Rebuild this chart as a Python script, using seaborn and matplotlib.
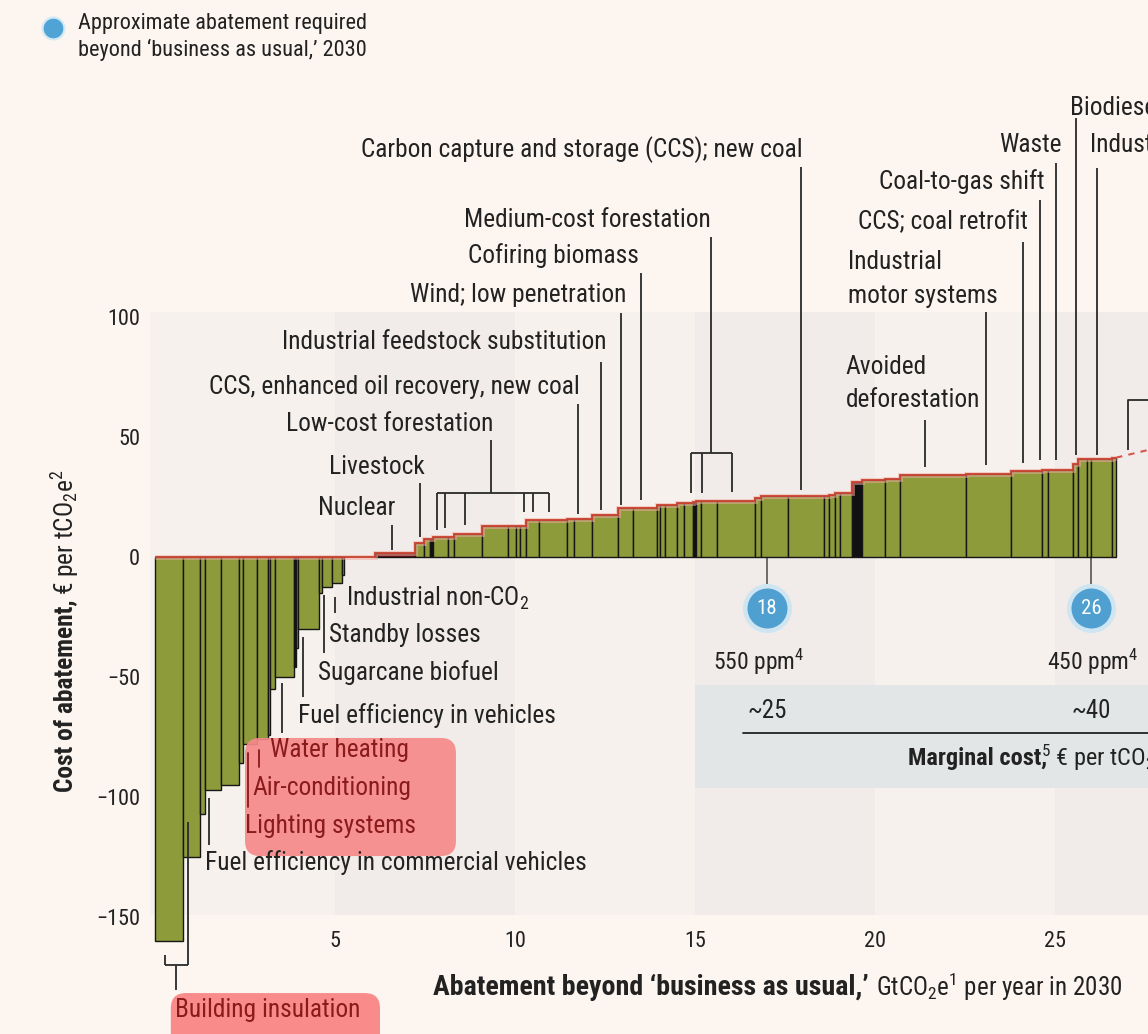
import numpy as np
import pandas as pd
import matplotlib
matplotlib.use("Agg")
import matplotlib.pyplot as plt
import seaborn as sns
from matplotlib import font_manager
from matplotlib.patches import FancyBboxPatch, Rectangle

# ---------------- data ----------------
widths = [0.79, 0.46, 0.14, 0.44, 0.49, 0.12, 0.39, 0.31, 0.06, 0.14, 0.52, 0.06, 0.06, 0.57,
          0.09, 0.28, 0.28, 0.06,
          0.86,
          1.10, 0.25, 0.18, 0.08, 0.42, 0.16, 0.76, 0.74, 0.23, 0.09, 0.17, 0.37, 0.77, 0.21,
          0.48, 0.72, 0.44, 0.65, 0.08, 0.16, 0.33, 0.18, 0.26, 0.08, 0.13, 0.44, 1.07, 0.16,
          0.75, 1.01, 0.12, 0.19, 0.14, 0.32, 0.28, 0.65, 0.40, 1.84, 1.25, 0.87, 0.15, 0.69,
          0.15, 0.24, 0.13, 0.58, 0.11]
costs = [-160, -125, -107, -97, -95, -86, -78, -76, -74, -55, -50, -46, -38, -30,
         -15, -12.5, -11, -7.5,
         0,
         1.5, 5.8, 7.5, 7.5, 8.3, 8.3, 9.4, 13, 13, 13, 13, 15.3, 15.3, 16,
         16, 17.7, 20.4, 20.4, 21.8, 21.8, 21.8, 22.7, 22.7, 23, 23.2, 23.2, 23.2, 24.7,
         25.4, 25.4, 25.6, 25.8, 26.5, 26.8, 31.3, 32, 32.6, 34, 34.7, 35.8, 36.4, 36.4,
         38.6, 40.7, 40.7, 40.7, 41.4]
black_bars = [11, 22, 42, 53]
nuclear_bar = 19

x_ticks = [5, 10, 15, 20, 25]
y_ticks = [100, 50, 0, -50, -100, -150]
target_x = [17.0, 26.0]
target_labels = ["18", "26"]
ppm_labels = ["550 ppm$^4$", "450 ppm$^4$"]
ppm_x = [16.78, 26.05]
marginal_costs = ["~25", "~40"]

# ---------------- fonts ----------------
avail = {f.name for f in font_manager.fontManager.ttflist}
FONT = "DejaVu Sans"
for cand in ["Roboto Condensed", "Liberation Sans Narrow", "Open Sans Condensed", "Roboto"]:
    if cand in avail:
        FONT = cand
        break

sns.set_theme(style="white")
plt.rcParams["font.family"] = [FONT, "DejaVu Sans"]
plt.rcParams["mathtext.fontset"] = "custom"
plt.rcParams["mathtext.rm"] = FONT
plt.rcParams["mathtext.bf"] = FONT + ":bold"
plt.rcParams["mathtext.it"] = FONT + ":italic"
plt.rcParams["axes.unicode_minus"] = True

BG = "#fcf5f0"
PANEL = "#f6f1ed"
BAND = "#f1ece9"
GREEN = "#8d9b3a"
TXT = "#222222"
DRED = "#8b1a1a"

fig = plt.figure(figsize=(11.48, 10.34), dpi=100, facecolor=BG)
ax = fig.add_axes([0, 0, 1, 1])
ax.set_facecolor(BG)

edges = np.concatenate([[0.0], np.cumsum(widths)])
centers = (edges[:-1] + edges[1:]) / 2
df = pd.DataFrame({"abatement": centers, "cost": costs})

n_before = len(ax.patches)
try:
    sns.histplot(data=df, x="abatement", weights="cost", bins=list(edges), ax=ax,
                 color=GREEN, alpha=1, edgecolor="#161616", linewidth=1.0, zorder=2)
    bars = list(ax.patches)[n_before:]
    if len(bars) != len(costs):
        raise RuntimeError("bar count")
except Exception:
    for p in list(ax.patches)[n_before:]:
        p.remove()
    cont = ax.bar(edges[:-1], costs, width=widths, align="edge", color=GREEN,
                  edgecolor="#161616", linewidth=1.0, zorder=2)
    bars = list(cont.patches)

for i, p in enumerate(bars):
    p.set_facecolor(GREEN)
    p.set_alpha(1)
    if i in black_bars:
        p.set_facecolor("#111111")
    if i == nuclear_bar:
        p.set_facecolor("#6e1414")
    if costs[i] == 0:
        p.set_linewidth(0)

# background panel + alternating bands
ax.add_patch(Rectangle((-0.15, -149), 28.5, 251, color=PANEL, zorder=0, lw=0))
for b0 in [5, 15, 25]:
    ax.add_patch(Rectangle((b0, -149), 5, 251, color=BAND, zorder=0.1, lw=0))

# red cost line
tops = np.maximum(np.array(costs, dtype=float), 0)
ax.stairs(tops, edges, baseline=None, color="#f2aaa0", lw=3.5, alpha=0.55, zorder=2.8)
ax.stairs(tops, edges, baseline=None, color="#c8412e", lw=1.3, zorder=3)
ax.plot([edges[-1], 27.7], [costs[-1], 45], ls=(0, (3, 3)), color="#d9534f", lw=1.5, zorder=3)

# marginal cost band
ax.add_patch(Rectangle((15.0, -96.25), 13, 42.9, color="#e3e6e6", zorder=0.5, lw=0))
ax.plot([16.33, 27.7], [-73.3, -73.3], color="#222", lw=1.3, zorder=1)
for xm, lab in zip(target_x, marginal_costs):
    ax.text(xm, -64.2, lab, ha="center", va="center", fontsize=18, color=TXT)
ax.text(20.92, -83.75, "Marginal cost,", ha="left", va="center", fontsize=17.5,
        fontweight="bold", color=TXT)
ax.text(24.62, -83.75, "$^5$ € per tCO$_2$e", ha="left", va="center", fontsize=17.5, color=TXT)

# targets
for xm, lab in zip(target_x, target_labels):
    ax.plot([xm, xm], [0, -13], color="#555", lw=1.2, zorder=1)
    ax.scatter([xm], [-21.25], s=1250, color="#cfe6f2", zorder=4, lw=0)
    ax.scatter([xm], [-21.25], s=830, color="#4f9fd0", zorder=5, lw=0)
    ax.text(xm, -21.25, lab, ha="center", va="center", fontsize=15, color="white", zorder=6)
for xp, ppm in zip(ppm_x, ppm_labels):
    ax.text(xp, -43.75, ppm, ha="center", va="center", fontsize=17, color=TXT)

# leader lines
lines = [
    ([17.94, 17.94], [162.5, 27.9]),
    ([15.44, 15.44], [133.3, 43.3]),
    ([14.89, 16.03], [43.3, 43.3]),
    ([14.89, 14.89], [43.3, 26.7]),
    ([15.19, 15.19], [43.3, 26.7]),
    ([16.03, 16.03], [43.3, 27.1]),
    ([13.5, 13.5], [118.3, 23.75]),
    ([12.94, 12.94], [101.7, 21.7]),
    ([12.39, 12.39], [81.25, 19.6]),
    ([11.75, 11.75], [63.75, 17.9]),
    ([9.33, 9.33], [48.75, 26.7]),
    ([7.83, 10.94], [26.7, 26.7]),
    ([7.83, 7.83], [26.7, 11.25]),
    ([8.06, 8.06], [26.7, 12.1]),
    ([8.61, 8.61], [26.7, 13.3]),
    ([10.25, 10.25], [26.7, 18.75]),
    ([10.5, 10.5], [26.7, 18.75]),
    ([10.94, 10.94], [26.7, 18.75]),
    ([7.35, 7.35], [30.8, 8.3]),
    ([6.58, 6.58], [13.3, 2.9]),
    ([21.39, 21.39], [57.1, 37.5]),
    ([23.08, 23.08], [102.1, 38.3]),
    ([24.11, 24.11], [131.25, 39.2]),
    ([24.58, 24.58], [148.75, 40.4]),
    ([25.03, 25.03], [164.2, 40.4]),
    ([25.58, 25.58], [182.9, 42.5]),
    ([26.17, 26.17], [162.1, 42.5]),
    ([27.03, 27.03, 27.8], [44.6, 65.4, 65.4]),
    ([5.0, 5.0], [-16.7, -23.3]),
    ([4.69, 4.69], [-15.8, -40]),
    ([4.11, 4.11], [-33.3, -58.3]),
    ([3.53, 3.53], [-52.5, -73.3]),
    ([1.5, 1.5], [-100.4, -120]),
    ([0.92, 0.92], [-110.4, -170]),
    ([0.28, 0.92], [-170, -170]),
    ([0.28, 0.28], [-165.8, -170]),
    ([0.58, 0.58], [-170, -180.4]),
]
for xs, ys in lines:
    ax.plot(xs, ys, color="#2a2a2a", lw=1.3, zorder=3.5, solid_capstyle="butt")

# highlight boxes
ax.add_patch(FancyBboxPatch((2.5, -124.6), 5.86, 49.2,
                            boxstyle="round,pad=0,rounding_size=0.42", mutation_aspect=15,
                            fc="#f7898a", ec="none", alpha=0.92, zorder=4))
ax.add_patch(FancyBboxPatch((0.44, -205), 5.81, 23.3,
                            boxstyle="round,pad=0,rounding_size=0.42", mutation_aspect=15,
                            fc="#f98b8a", ec="none", zorder=4))
for xs, ys in [([2.89, 2.89], [-80.4, -87.5]), ([2.57, 2.57], [-81.7, -104.2])]:
    ax.plot(xs, ys, color=DRED, lw=1.3, zorder=4.5)

LS = 18.3
labels = [
    ("Carbon capture and storage (CCS); new coal", 18.0, 169.6, "right", TXT),
    ("Medium-cost forestation", 15.44, 140.4, "right", TXT),
    ("Cofiring biomass", 13.44, 125.8, "right", TXT),
    ("Wind; low penetration", 13.08, 109.2, "right", TXT),
    ("Industrial feedstock substitution", 12.53, 89.6, "right", TXT),
    ("CCS, enhanced oil recovery, new coal", 11.81, 70.8, "right", TXT),
    ("Low-cost forestation", 9.39, 55.4, "right", TXT),
    ("Livestock", 7.5, 37.5, "right", TXT),
    ("Nuclear", 6.69, 20.4, "right", TXT),
    ("Avoided", 19.19, 79.2, "left", TXT),
    ("deforestation", 19.19, 65.4, "left", TXT),
    ("Industrial", 19.25, 122.9, "left", TXT),
    ("motor systems", 19.25, 108.75, "left", TXT),
    ("CCS; coal retrofit", 24.25, 139.6, "right", TXT),
    ("Coal-to-gas shift", 24.72, 156.25, "right", TXT),
    ("Waste", 25.19, 171.7, "right", TXT),
    ("Biodiesel", 25.42, 187.1, "left", TXT),
    ("Industrial CCS", 25.97, 171.7, "left", TXT),
    ("Industrial non-CO$_2$", 5.31, -17.1, "left", TXT),
    ("Standby losses", 4.83, -32.5, "left", TXT),
    ("Sugarcane biofuel", 4.53, -48.3, "left", TXT),
    ("Fuel efficiency in vehicles", 3.97, -66.25, "left", TXT),
    ("Water heating", 3.19, -80.4, "left", DRED),
    ("Air-conditioning", 2.72, -96.25, "left", DRED),
    ("Lighting systems", 2.5, -112.1, "left", DRED),
    ("Fuel efficiency in commercial vehicles", 1.39, -127.5, "left", TXT),
    ("Building insulation", 0.56, -188.75, "left", DRED),
]
for t, x, y, ha, c in labels:
    ax.text(x, y, t, ha=ha, va="center", fontsize=LS, color=c, zorder=5)

# legend
ax.scatter([-2.83], [220.4], s=300, color="#d3e9f4", zorder=4, lw=0, clip_on=False)
ax.scatter([-2.83], [220.4], s=200, color="#4fa3d5", zorder=5, lw=0, clip_on=False)
ax.text(-2.14, 222.1, "Approximate abatement required", ha="left", va="center", fontsize=16, color=TXT)
ax.text(-2.14, 211.25, "beyond \u2018business as usual,\u2019 2030", ha="left", va="center",
        fontsize=16, color=TXT)

# axis titles
ax.text(19.83, -179.2, "Abatement beyond \u2018business as usual,\u2019", ha="right", va="center",
        fontsize=20.2, fontweight="bold", color=TXT)
ax.text(20.03, -179.2, "GtCO$_2$e$^1$ per year in 2030", ha="left", va="center", fontsize=18, color=TXT)
ax.text(-2.5, -97.9, "Cost of abatement,", rotation=90, ha="center", va="bottom",
        fontsize=18.3, fontweight="bold", color=TXT)
ax.text(-2.5, -15.8, "€ per tCO$_2$e$^2$", rotation=90, ha="center", va="bottom",
        fontsize=18.3, color=TXT)

# axes / ticks
ax.set_xlim(-155 / 36, 993 / 36)
ax.set_ylim((557 - 1034) / 2.4, 557 / 2.4)
ax.set_xticks(x_ticks)
ax.set_yticks(y_ticks)
ax.set_xticklabels([str(v) for v in x_ticks])
ax.set_yticklabels([str(v).replace("-", "\u2212") for v in y_ticks])
ax.tick_params(axis="y", length=0, pad=-100.8, labelsize=16, labelcolor=TXT)
ax.tick_params(axis="x", length=0, pad=-74, labelsize=16, labelcolor=TXT)
ax.set_xlabel("")
ax.set_ylabel("")
for s in ax.spines.values():
    s.set_visible(False)
ax.grid(False)

fig.savefig("out.png", dpi=100, facecolor=BG)
